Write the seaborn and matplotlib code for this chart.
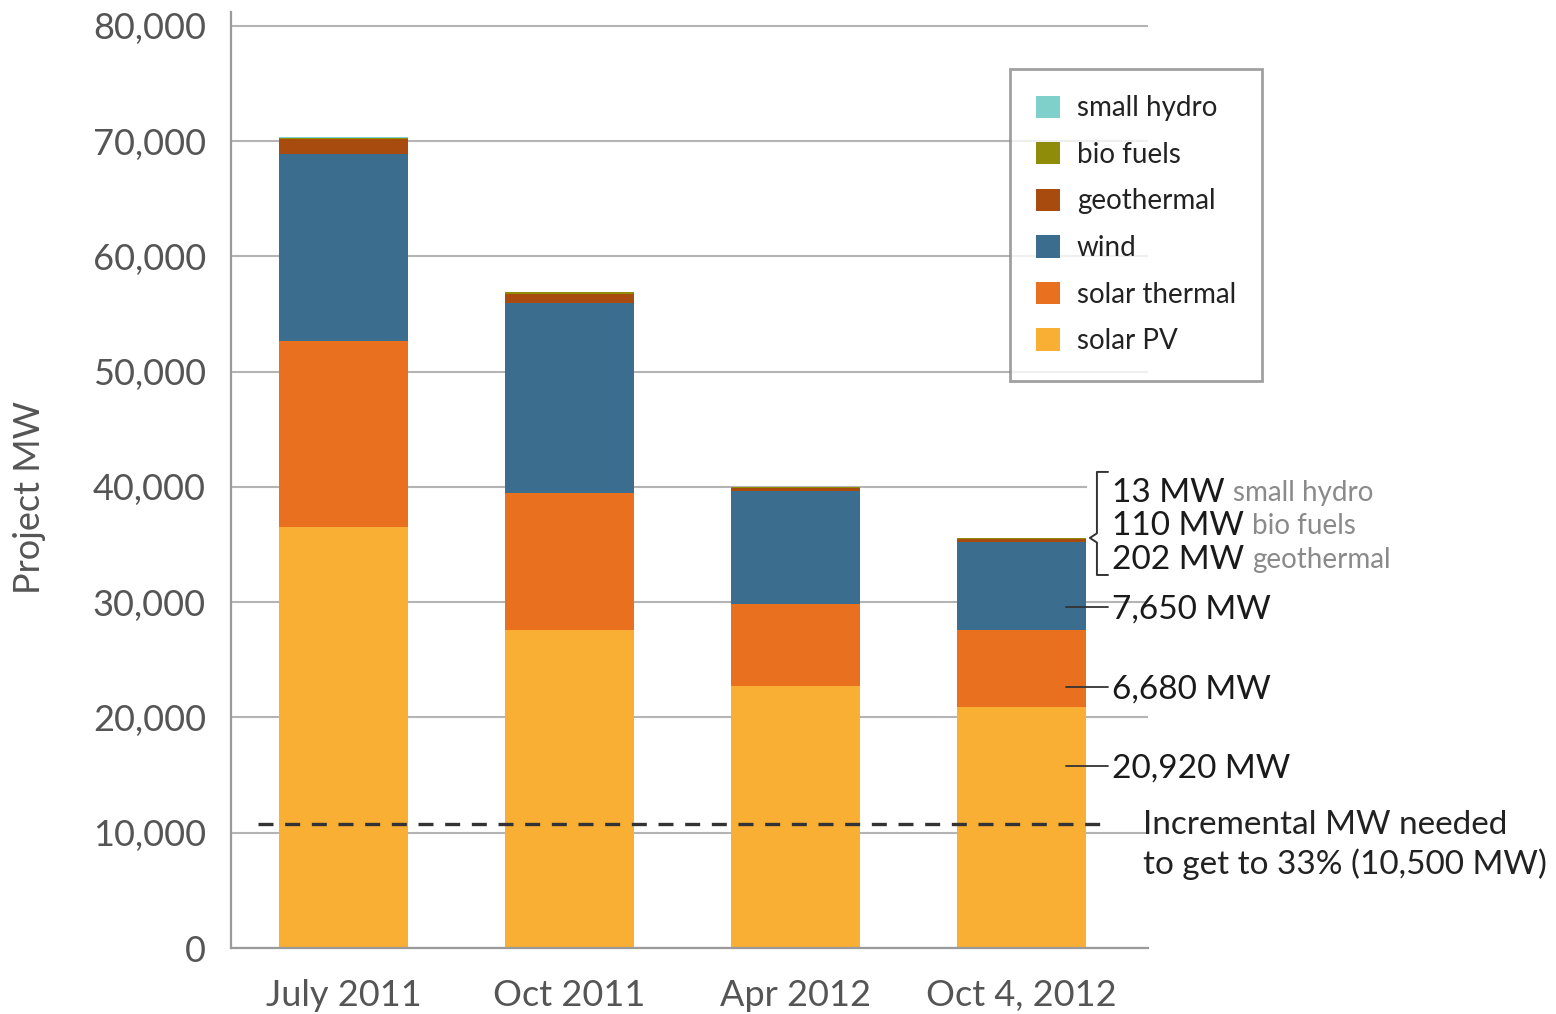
import matplotlib
matplotlib.use("Agg")
import matplotlib.pyplot as plt
import matplotlib.patches as mpatches
import numpy as np
import pandas as pd
import seaborn as sns

# ---------------- data ----------------
periods = ["July 2011", "Oct 2011", "Apr 2012", "Oct 4, 2012"]
solar_pv = [36500, 27600, 22700, 20920]
solar_thermal = [16150, 11900, 7100, 6680]
wind = [16250, 16450, 9850, 7650]
geothermal = [1300, 800, 250, 202]
bio_fuels = [100, 150, 110, 110]
small_hydro = [30, 20, 15, 13]
target_mw = 10750

series_names = ["solar PV", "solar thermal", "wind", "geothermal", "bio fuels", "small hydro"]
series_vals = [solar_pv, solar_thermal, wind, geothermal, bio_fuels, small_hydro]
colors = {
    "solar PV": "#F9AF34",
    "solar thermal": "#E8701E",
    "wind": "#3B6E8E",
    "geothermal": "#A84B0F",
    "bio fuels": "#8E8C08",
    "small hydro": "#7FCFCA",
}

sns.set_style("white")
plt.rcParams["font.family"] = ["Lato", "DejaVu Sans"]

W, H = 1556, 1014
fig = plt.figure(figsize=(W / 100, H / 100), dpi=100)
ax = fig.add_axes([231 / W, 1 - 948 / H, (1148 - 231) / W, (948 - 12) / H])

df = pd.DataFrame({"period": periods})
cum = np.zeros(len(periods))
cums = []
for name, vals in zip(series_names, series_vals):
    cum = cum + np.array(vals, dtype=float)
    cums.append((name, cum.copy()))

# draw from the total downwards so each layer overlays the previous
for name, c in reversed(cums):
    d = df.copy()
    d["value"] = c
    sns.barplot(data=d, x="period", y="value", color=colors[name], width=0.57,
                saturation=1, ax=ax, zorder=2, edgecolor="none", linewidth=0)

ax.set_xlim(-0.498, 3.56)
ax.set_ylim(0, 81200)
ax.set_yticks(np.arange(0, 80001, 10000))
ax.set_yticklabels([f"{v:,}" for v in range(0, 80001, 10000)])
ax.grid(axis="y", color="#b4b4b4", lw=1.5, zorder=0)
ax.grid(axis="x", visible=False)
ax.set_axisbelow(True)
for s in ["top", "right"]:
    ax.spines[s].set_visible(False)
for s in ["left", "bottom"]:
    ax.spines[s].set_color("#9a9a9a")
    ax.spines[s].set_linewidth(1.6)
ax.tick_params(axis="both", length=0, labelsize=26, labelcolor="#555555")
ax.tick_params(axis="y", pad=18)
ax.tick_params(axis="x", pad=22)
ax.set_xlabel("")
ax.set_ylabel("")
fig.text(30 / W, 1 - 497 / H, "Project MW", rotation=90, ha="center", va="center",
         fontsize=26, color="#555555")

# dashed target line
ax.plot([-0.378, 3.37], [target_mw, target_mw], ls=(0, (4.5, 3.5)), color="#333333",
        lw=2.4, zorder=5, clip_on=False)
ax.text(3.54, 8940, "Incremental MW needed\nto get to 33% (10,500 MW)", ha="left",
        va="center", fontsize=24, color="#222222", linespacing=1.3, clip_on=False)

# white mask behind bracket area over the grid line
ax.add_patch(mpatches.Rectangle((3.29, 38500), 0.4, 3000, facecolor="white",
                                edgecolor="none", zorder=1, clip_on=False))

# bracket
bx, btick, bpt = 3.334, 3.383, 3.303
ytop, ybot = 41300, 32360
ymid = sum(v[3] for v in series_vals)
ax.plot([btick, bx, bx, bpt, bx, bx, btick], [ytop, ytop, ymid + 400, ymid, ymid - 400, ybot, ybot],
        color="#333333", lw=1.4, clip_on=False, zorder=6)

small_labels = [(39500, f"{small_hydro[3]} MW", "small hydro"),
                (36650, f"{bio_fuels[3]} MW", "bio fuels"),
                (33700, f"{geothermal[3]} MW", "geothermal")]
for y, big, small in small_labels:
    t = ax.text(3.40, y, big, ha="left", va="center", fontsize=24, color="#1a1a1a", clip_on=False)
    ax.annotate(small, xy=(1, 0), xycoords=t, xytext=(6, 1), textcoords="offset points",
                ha="left", va="bottom", fontsize=20, color="#8a8a8a")

# leader lines for last bar
leader = [(29590, wind[3]), (22650, solar_thermal[3]), (15790, solar_pv[3])]
for y, v in leader:
    ax.plot([3.197, 3.383], [y, y], color="#333333", lw=1.3, clip_on=False, zorder=6)
    ax.text(3.40, y - 250, f"{v:,} MW", ha="left", va="center", fontsize=24, color="#1a1a1a",
            clip_on=False)

# legend
handles = [mpatches.Patch(facecolor=colors[n], edgecolor="none", label=n)
           for n in reversed(series_names)]
leg = ax.legend(handles=handles, loc="upper left",
                bbox_to_anchor=((1010 - 231) / 917, (948 - 69) / 936),
                fontsize=20, frameon=True, fancybox=False, handlelength=0.85,
                handleheight=0.85, handletextpad=0.6, labelspacing=0.74,
                borderpad=0.95, borderaxespad=0)
leg.get_frame().set_edgecolor("#888888")
leg.get_frame().set_linewidth(2)
for t in leg.get_texts():
    t.set_color("#222222")

fig.savefig("out.png", dpi=100)
